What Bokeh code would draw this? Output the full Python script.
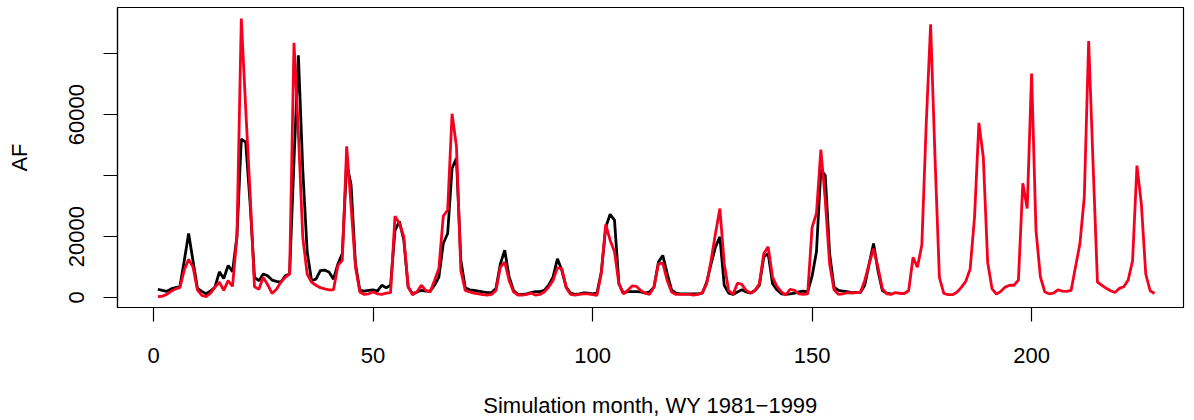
from bokeh.plotting import figure
from bokeh.models import Range1d, FixedTicker
from bokeh.embed import file_html
from bokeh.resources import INLINE

# Monthly volumes, thousand AF (water years 1981-1999)
observed_kaf = [
    2.7, 2.3, 2.0, 2.8, 3.2, 3.5, 12, 21, 12, 3.0, 2.0, 1.2,
    2.1, 3.4, 8.4, 6.2, 10.5, 8.5, 20, 52, 51, 31, 6.6, 5.5,
    7.7, 7.1, 5.7, 5.3, 5.0, 7.1, 7.7, 45, 79.5, 42, 15, 5.5,
    6.0, 8.8, 9.0, 8.3, 6.0, 11, 14.4, 44, 37, 11, 2.3, 2.1,
    2.3, 2.5, 2.1, 4.0, 3.2, 4.0, 22, 25, 19, 3.4, 1.2, 1.8,
    2.3, 2.1, 2.1, 4.0, 6.7, 17.7, 21, 42.4, 45.7, 12.2, 3.2, 2.5,
    2.3, 2.1, 1.8, 1.6, 1.6, 2.9, 11, 15.5, 6.7, 2.3, 1.0, 1.0,
    1.2, 1.6, 1.9, 1.9, 2.3, 4.0, 6.7, 12.7, 8.9, 3.4, 1.4, 1.0,
    1.2, 1.5, 1.4, 1.2, 1.4, 8.4, 23, 27.3, 25.4, 4.5, 1.4, 1.9,
    1.9, 1.9, 1.8, 1.4, 1.8, 3.4, 11.6, 13.8, 7.8, 2.5, 1.4, 1.2,
    1.2, 1.2, 1.2, 1.2, 1.4, 5.0, 11, 16.6, 19.9, 4.0, 1.4, 1.0,
    1.8, 2.5, 1.8, 1.4, 2.3, 4.0, 13.3, 14.4, 4.5, 2.5, 1.2, 1.0,
    1.2, 1.4, 1.8, 2.1, 1.8, 7.0, 15, 42, 40, 14.4, 3.4, 2.3,
    2.1, 1.9, 1.6, 1.6, 1.6, 4.0, 11, 17.7, 8.9, 2.3, 1.4, 1.2,
]

simulated_kaf = [
    0.3, 0.4, 1.0, 2.0, 2.8, 3.2, 9.0, 12.5, 10.0, 2.5, 0.7, 0.3,
    1.4, 3.4, 5.0, 2.3, 5.5, 3.6, 20, 91.6, 62, 34, 3.5, 2.7,
    6.6, 4.2, 1.3, 2.7, 5.0, 6.6, 7.7, 83.6, 54, 19.7, 7.7, 5.0,
    4.0, 3.2, 2.8, 2.5, 2.5, 10.5, 12.2, 49.6, 30, 10, 1.8, 1.0,
    1.2, 1.8, 1.2, 1.0, 1.4, 1.6, 26.7, 24.3, 20, 3.5, 0.9, 1.8,
    4.0, 2.3, 1.8, 5.6, 9.5, 26.7, 28.7, 60.3, 49.6, 8.9, 2.3, 1.8,
    1.4, 1.2, 0.9, 0.8, 1.0, 2.3, 10, 11.6, 5.6, 1.8, 0.8, 0.8,
    1.0, 1.4, 0.8, 1.0, 1.8, 3.4, 5.6, 9.7, 9.5, 3.2, 1.0, 0.8,
    1.0, 1.2, 1.2, 0.9, 0.7, 8.0, 24, 18.8, 15, 4.5, 1.2, 2.3,
    3.8, 3.6, 2.3, 1.4, 1.0, 3.4, 11, 11.3, 5.6, 1.8, 1.0, 1.0,
    1.0, 1.0, 0.8, 1.0, 1.6, 4.5, 12.2, 21, 29.2, 11, 2.3, 1.0,
    4.7, 4.3, 2.3, 1.4, 2.3, 4.5, 14.4, 16.6, 6.7, 3.6, 1.8, 0.8,
    2.7, 2.3, 1.2, 1.0, 1.2, 23, 27.6, 48.5, 32, 11, 2.5, 1.0,
    1.2, 1.6, 1.4, 1.6, 1.6, 5.6, 11, 16, 10, 2.9, 1.2, 1.0,
    1.6, 1.3, 1.3, 2.2, 13.2, 9.9, 17.2, 57, 89.7, 46, 6.6, 1.3,
    0.9, 0.9, 1.7, 3.3, 5.3, 9.3, 26.3, 57.3, 46.1, 11.5, 2.8, 1.1,
    2.0, 3.4, 4.0, 4.0, 5.7, 37.5, 29.2, 73.5, 22, 6.8, 1.8, 1.2,
    1.4, 2.5, 2.1, 2.0, 2.3, 10, 17.6, 32.9, 84.2, 44, 5.0, 4.0,
    3.0, 2.2, 1.6, 3.0, 3.5, 5.7, 12.1, 43.3, 30.7, 7.7, 2.2, 1.3,
]

x_ticks = [0, 50, 100, 150, 200]
y_ticks = [0, 20000, 40000, 60000, 80000]
y_tick_labels = {0: "0", 20000: "20000", 40000: "", 60000: "60000", 80000: ""}

obs_months = list(range(1, len(observed_kaf) + 1))
sim_months = list(range(1, len(simulated_kaf) + 1))
observed = [v * 1000 for v in observed_kaf]
simulated = [v * 1000 for v in simulated_kaf]

FONT = "Liberation Sans"

p = figure(width=1194, height=420,
           x_range=Range1d(-8.2, 234.6), y_range=Range1d(-3300, 95200),
           output_backend="svg", toolbar_location=None,
           min_border_left=117, min_border_right=11,
           min_border_top=7, min_border_bottom=113)
p.grid.visible = False
p.outline_line_color = "black"
p.outline_line_width = 1.2
p.background_fill_color = "white"
p.border_fill_color = "white"

p.line(obs_months, observed, line_color="black", line_width=2.8)
p.line(sim_months, simulated, line_color="#F7001F", line_width=2.8)

xa = p.xaxis[0]
xa.ticker = FixedTicker(ticks=x_ticks)
xa.axis_label = "Simulation month, WY 1981\u22121999"
ya = p.yaxis[0]
ya.ticker = FixedTicker(ticks=y_ticks)
ya.major_label_overrides = y_tick_labels
ya.major_label_orientation = "vertical"
ya.axis_label = "AF"

for ax in (xa, ya):
    ax.minor_tick_line_color = None
    ax.major_tick_in = 0
    ax.major_tick_out = 14
    ax.major_tick_line_width = 1.2
    ax.axis_line_width = 1.2
    ax.major_label_text_font = FONT
    ax.major_label_text_font_size = "22px"
    ax.major_label_text_color = "black"
    ax.axis_label_text_font = FONT
    ax.axis_label_text_font_size = "22px"
    ax.axis_label_text_font_style = "normal"
    ax.axis_label_text_color = "black"

xa.major_label_standoff = 26
xa.axis_label_standoff = 27
ya.major_label_standoff = 19
ya.axis_label_standoff = 35

open("out.html", "w").write(file_html(p, INLINE))
